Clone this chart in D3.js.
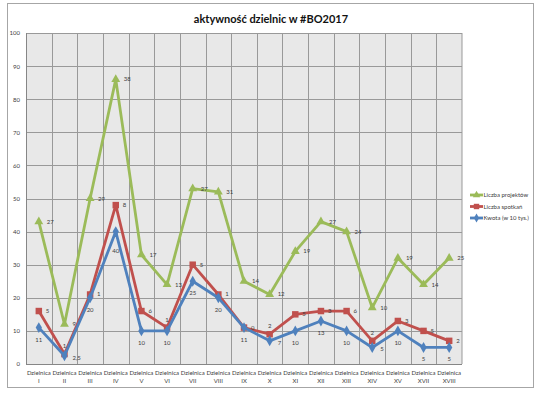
<!DOCTYPE html>
<html>
<head>
<meta charset="utf-8">
<script src="https://cdn.jsdelivr.net/npm/d3@7"></script>
<style>
  body { margin: 0; background: #fff; }
  text { font-family: Lato, "Open Sans", sans-serif; fill: #404040; }
</style>
</head>
<body>
<svg id="chart"></svg>
<script>
// categories (district names)
const districts = ["I","II","III","IV","V","VI","VII","VIII","IX","X","XI","XII","XIII","XIV","XV","XVII","XVIII"];

// plotted values
const projekty = [43,12,50,86,33,24,53,52,25,21,34,43,40,17,32,24,32];
const spotkania = [16,3,21,48,16,11,30,21,11,9,15,16,16,7,13,10,7];
const kwota = [11,2.5,20,40,10,10,25,20,11,7,10,13,10,5,10,5,5];

// data labels shown next to points
const projektyLabels = ["27","9","29","38","17","13","27","31","14","12","19","27","24","10","19","14","25"];
const spotkaniaLabels = ["5","1","1","8","6","1","5","1","0","2","5","3","6","2","3","5","2"];
const kwotaLabels = ["11","2,5","20","40","10","10","25","20","11","7","10","13","10","5","10","5","5"];

const yTicks = [0,10,20,30,40,50,60,70,80,90,100];

const width = 545, height = 399;
const plot = {left: 26, right: 462, top: 33, bottom: 364};

const svg = d3.select("#chart").attr("width", width).attr("height", height);

// outer frame
svg.append("rect").attr("x", 7.5).attr("y", 3.5).attr("width", 526).attr("height", 384)
   .attr("fill", "#fff").attr("stroke", "#a6a6a6").attr("stroke-width", 1);

svg.append("text").attr("x", 271).attr("y", 23).attr("text-anchor", "middle")
   .style("font-size", "11px").style("font-weight", "bold").style("fill", "#111")
   .text("aktywność dzielnic w #BO2017");

const x = d3.scaleBand().domain(districts).range([plot.left, plot.right]);
const y = d3.scaleLinear().domain([0, 100]).range([plot.bottom, plot.top]);

// plot background
svg.append("rect").attr("x", plot.left).attr("y", plot.top)
   .attr("width", plot.right - plot.left).attr("height", plot.bottom - plot.top)
   .attr("fill", "#e8e8e8");

// grid
const grid = svg.append("g").attr("stroke", "#999").attr("stroke-width", 1);
grid.selectAll("line.h").data(yTicks).enter().append("line")
    .attr("x1", plot.left).attr("x2", plot.right)
    .attr("y1", d => Math.round(y(d)) + 0.5).attr("y2", d => Math.round(y(d)) + 0.5);
grid.selectAll("line.v").data(districts.slice(1).concat(["end"])).enter().append("line")
    .attr("x1", d => d === "end" ? plot.right : Math.round(x(d)) + 0.5)
    .attr("x2", d => d === "end" ? plot.right : Math.round(x(d)) + 0.5)
    .attr("y1", plot.top).attr("y2", plot.bottom);
// axis line
svg.append("line").attr("x1", plot.left + 0.5).attr("x2", plot.left + 0.5)
   .attr("y1", plot.top).attr("y2", plot.bottom).attr("stroke", "#868686");
svg.append("line").attr("x1", plot.left).attr("x2", plot.right)
   .attr("y1", plot.bottom + 0.5).attr("y2", plot.bottom + 0.5).attr("stroke", "#868686");

// y axis labels
const yAxis = d3.axisLeft(y).tickValues(yTicks).tickSize(0).tickPadding(6);
svg.append("g").attr("transform", `translate(${plot.left},0)`).call(yAxis)
   .call(g => g.select(".domain").remove())
   .call(g => g.selectAll("text").style("font-size", "6px").style("font-family", "Lato, sans-serif").attr("fill", "#404040"));

// x axis labels (two lines)
const xl = svg.append("g");
districts.forEach(d => {
  const t = xl.append("text").attr("x", x(d) + x.bandwidth() / 2).attr("y", 375)
    .attr("text-anchor", "middle").style("font-size", "6px");
  t.append("tspan").attr("x", x(d) + x.bandwidth() / 2).text("Dzielnica");
  t.append("tspan").attr("x", x(d) + x.bandwidth() / 2).attr("dy", 8).text(d);
});

const cx = (d, i) => x(districts[i]) + x.bandwidth() / 2;

const isDip = (vals, i) => vals[i - 1] !== undefined && vals[i + 1] !== undefined &&
  vals[i] < vals[i - 1] && vals[i] < vals[i + 1];

// blue labels: below the point, to the right for dips, lower for sharp peaks
function belowPlace(vals, i) {
  const v = vals[i], p = vals[i - 1], n = vals[i + 1];
  if (isDip(vals, i)) return {dx: 8, dy: 4, anchor: "start"};
  if (p !== undefined && n !== undefined && v - p > 15 && v - n > 15) return {dx: 0, dy: 21, anchor: "middle"};
  return {dx: 0, dy: 14, anchor: "middle"};
}
// red labels: right of the point, above it for dips
function redPlace(vals, i) {
  if (isDip(vals, i)) return {dx: 0, dy: -6, anchor: "middle"};
  return {dx: 7, dy: 2, anchor: "start"};
}
const greenPlace = () => ({dx: 8, dy: 2, anchor: "start"});

const series = [
  {name: "Liczba projektów", values: projekty, labels: projektyLabels, color: "#9bbb59", marker: "triangle", place: greenPlace},
  {name: "Liczba spotkań", values: spotkania, labels: spotkaniaLabels, color: "#c0504d", marker: "square", place: redPlace},
  {name: "Kwota (w 10 tys.)", values: kwota, labels: kwotaLabels, color: "#4f81bd", marker: "diamond", place: belowPlace}
];

const symbols = {triangle: d3.symbolTriangle, square: d3.symbolSquare, diamond: d3.symbolDiamond};
const symSize = {triangle: 34, square: 42, diamond: 34};

const line = d3.line().x((d, i) => cx(d, i)).y(d => y(d));

// draw back to front: green, red, blue
series.forEach(s => {
  const g = svg.append("g");
  g.append("path").datum(s.values).attr("d", line).attr("fill", "none")
   .attr("stroke", s.color).attr("stroke-width", 2.8).attr("stroke-linejoin", "round");
  g.selectAll("path.m").data(s.values).enter().append("path")
   .attr("transform", (d, i) => `translate(${cx(d, i)},${y(d)})`)
   .attr("d", d3.symbol().type(symbols[s.marker]).size(symSize[s.marker]))
   .attr("fill", s.color);
  g.selectAll("text").data(s.values).enter().append("text")
   .each(function(d, i) {
     const p = s.place(s.values, i);
     d3.select(this).attr("x", cx(d, i) + p.dx).attr("y", y(d) + p.dy)
       .attr("text-anchor", p.anchor);
   })
   .style("font-size", "6px")
   .text((d, i) => s.labels[i]);
});

// legend
const lg = svg.append("g").attr("transform", "translate(470,195)");
series.forEach((s, i) => {
  const row = lg.append("g").attr("transform", `translate(0,${i * 11.5})`);
  row.append("line").attr("x1", 0).attr("x2", 13).attr("stroke", s.color).attr("stroke-width", 2.8);
  row.append("path").attr("transform", "translate(6.5,0)")
     .attr("d", d3.symbol().type(symbols[s.marker]).size(symSize[s.marker] * 0.7)).attr("fill", s.color);
  row.append("text").attr("x", 13.5).attr("y", 2).style("font-size", "6px").text(s.name);
});
</script>
</body>
</html>
